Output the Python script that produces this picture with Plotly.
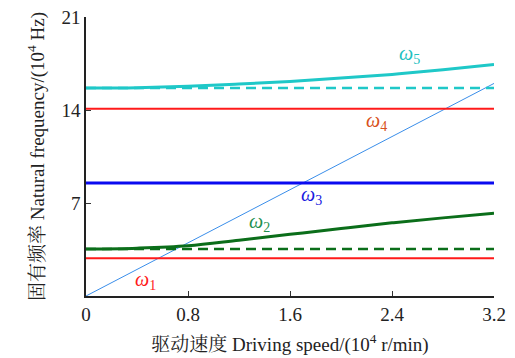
import plotly.graph_objects as go

speed = [0, 0.4, 0.8, 1.2, 1.6, 2.0, 2.4, 2.8, 3.2]
w1 = [2.85] * 9
w2_static = [3.53] * 9
w2 = [3.53, 3.6, 3.78, 4.2, 4.64, 5.08, 5.51, 5.88, 6.22]
w3 = [8.5] * 9
w4 = [14.1] * 9
w5_static = [15.65] * 9
w5 = [15.65, 15.68, 15.78, 15.95, 16.15, 16.4, 16.68, 17.03, 17.42]
excite_x = [0, 3.2]
excite_y = [0, 16.0]

labels = ["<i>ω</i><sub>1</sub>", "<i>ω</i><sub>2</sub>", "<i>ω</i><sub>3</sub>",
          "<i>ω</i><sub>4</sub>", "<i>ω</i><sub>5</sub>"]
label_x = [0.47, 1.36, 1.77, 2.28, 2.54]
label_y = [1.2, 5.5, 7.6, 13.1, 18.15]
label_colors = ["#ff1a1a", "#1f9050", "#1a1ae0", "#d85020", "#20c0c0"]

FONT = "Liberation Serif, Times New Roman, Noto Serif CJK SC, Noto Sans CJK SC, serif"

fig = go.Figure()
fig.add_trace(go.Scatter(x=excite_x, y=excite_y, mode="lines",
                         line=dict(color="#3a8eea", width=1)))
fig.add_trace(go.Scatter(x=speed, y=w1, mode="lines", line=dict(color="#ff1a1a", width=2)))
fig.add_trace(go.Scatter(x=speed, y=w2_static, mode="lines",
                         line=dict(color="#0b6e1a", width=2.5, dash="10px,6px")))
fig.add_trace(go.Scatter(x=speed, y=w2, mode="lines", line=dict(color="#0b6e1a", width=3, shape="spline")))
fig.add_trace(go.Scatter(x=speed, y=w3, mode="lines", line=dict(color="#0a0af0", width=3)))
fig.add_trace(go.Scatter(x=speed, y=w4, mode="lines", line=dict(color="#ff1a1a", width=2)))
fig.add_trace(go.Scatter(x=speed, y=w5_static, mode="lines",
                         line=dict(color="#1fc8c8", width=2.5, dash="10px,6px")))
fig.add_trace(go.Scatter(x=speed, y=w5, mode="lines", line=dict(color="#1fc8c8", width=3, shape="spline")))

for t, x, y, c in zip(labels, label_x, label_y, label_colors):
    fig.add_annotation(x=x, y=y, text=t, showarrow=False,
                       font=dict(family=FONT, size=20, color=c))

fig.update_layout(
    width=515, height=358,
    margin=dict(l=86, r=21, t=17, b=62),
    paper_bgcolor="white", plot_bgcolor="white",
    showlegend=False,
    font=dict(family=FONT, size=19, color="#222"),
    xaxis=dict(range=[0, 3.2], tickvals=[0, 0.8, 1.6, 2.4, 3.2],
               ticktext=["0", "0.8", "1.6", "2.4", "3.2"], automargin=False,
               ticks="inside", ticklen=5, tickcolor="#333",
               showline=True, linecolor="#222", linewidth=1.5, showgrid=False, zeroline=False,
               title=dict(text="驱动速度 Driving speed/(10<sup>4</sup> r/min)", font=dict(size=19), standoff=14)),
    yaxis=dict(range=[0, 21], tickvals=[0, 7, 14, 21], ticktext=["", "7", "14", "21"], automargin=False,
               ticks="inside", ticklen=5, tickcolor="#333",
               showline=True, linecolor="#222", linewidth=1.5, showgrid=False, zeroline=False,
               title=dict(text="固有频率 Natural frequency/(10<sup>4</sup> Hz)", font=dict(size=19), standoff=12)),
)

fig.write_html("out.html")
